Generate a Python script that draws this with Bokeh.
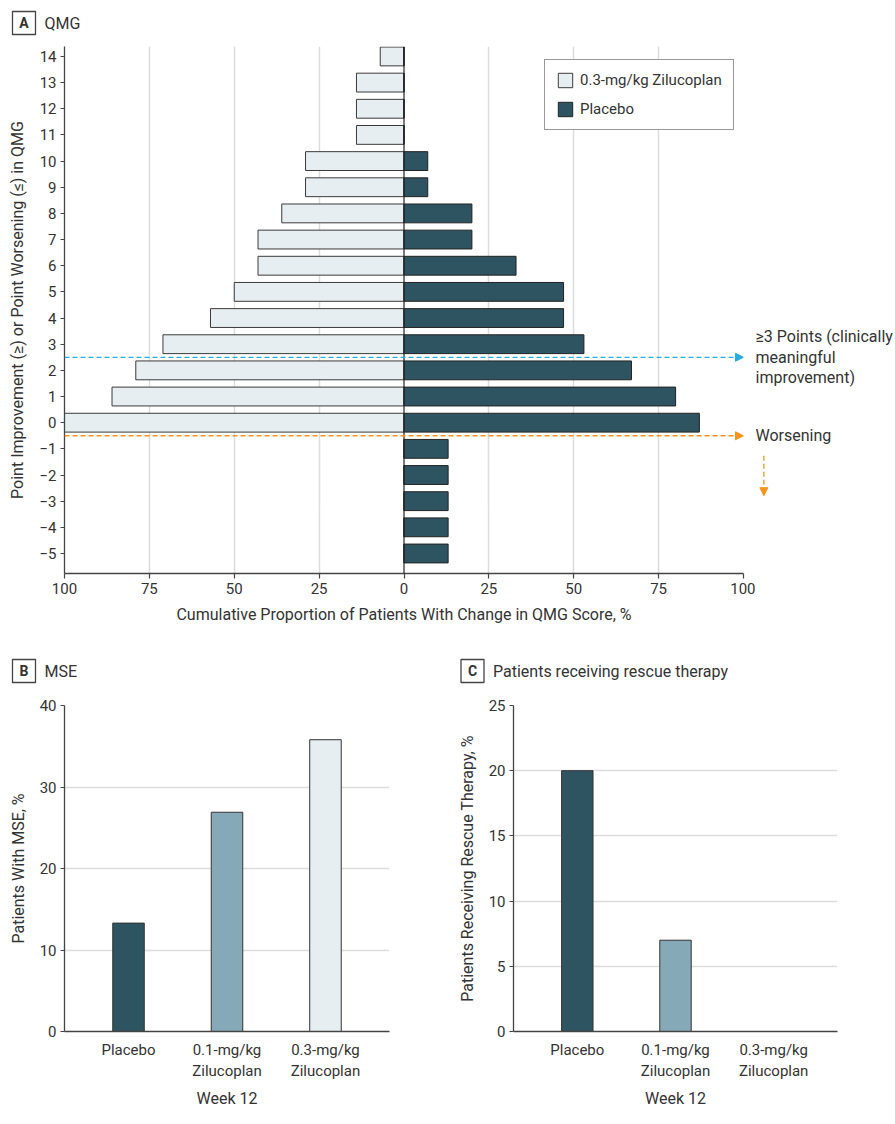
from bokeh.plotting import figure
from bokeh.models import (Range1d, FixedTicker, Arrow, NormalHead, Span,
                          Legend, LegendItem, ColumnDataSource)
from bokeh.layouts import column, row
from bokeh.embed import file_html
from bokeh.resources import INLINE
from bokeh.core.properties import value

FONT = "Roboto"
TXT = "#333333"
AXC = "#444444"
GRID = "#dcdcdc"
C_PLACEBO = "#2e5461"
C_ZIL01 = "#86a9b8"
C_ZIL03 = "#e6eef1"
C_BLUE = "#29aae1"
C_ORANGE = "#f7941d"

# ---------------- Panel A data ----------------
qmg_points = [-5, -4, -3, -2, -1, 0, 1, 2, 3, 4, 5, 6, 7, 8, 9, 10, 11, 12, 13, 14]
zil03_pct = [0, 0, 0, 0, 0, 100, 86, 79, 71, 57, 50, 43, 43, 36, 29, 29, 14, 14, 14, 7]
placebo_pct = [13, 13, 13, 13, 13, 87, 80, 67, 53, 47, 47, 33, 20, 20, 7, 7, 0, 0, 0, 0]
a_ticks = [-100, -75, -50, -25, 0, 25, 50, 75, 100]
a_tick_labels = ["100", "75", "50", "25", "0", "25", "50", "75", "100"]

# ---------------- Panel B / C data ----------------
groups = ["Placebo", "0.1-mg/kg\nZilucoplan", "0.3-mg/kg\nZilucoplan"]
group_colors = [C_PLACEBO, C_ZIL01, C_ZIL03]
mse_pct = [13.3, 26.9, 35.8]
rescue_pct = [20.0, 7.0, 0.0]
b_ticks = [0, 10, 20, 30, 40]
c_ticks = [0, 5, 10, 15, 20, 25]


def style_axes(p):
    for ax in p.axis:
        ax.axis_line_color = AXC
        ax.axis_line_width = 1.3
        ax.major_tick_line_color = AXC
        ax.major_tick_line_width = 1.2
        ax.minor_tick_line_color = None
        ax.major_label_text_font = FONT
        ax.major_label_text_font_size = "15px"
        ax.major_label_text_color = TXT
        ax.axis_label_text_font = FONT
        ax.axis_label_text_font_size = "16px"
        ax.axis_label_text_font_style = "normal"
        ax.axis_label_text_color = TXT
    p.outline_line_color = None
    p.background_fill_color = "white"
    p.border_fill_color = "white"


def blank_fig(width, height, xr, yr, **kw):
    p = figure(width=width, height=height, x_range=xr, y_range=yr,
               output_backend="svg", toolbar_location=None,
               x_axis_location=None, y_axis_location=None, **kw)
    p.grid.grid_line_color = None
    p.outline_line_color = None
    p.background_fill_color = "white"
    p.border_fill_color = "white"
    return p


def header_fig(width, height, letter, title, box_x, cy):
    # pixel-based decoration panel (y measured from top)
    p = blank_fig(width, height, Range1d(0, width), Range1d(height, 0),
                  min_border=0)
    p.rect(x=[box_x], y=[cy], width=23, height=23, fill_color="white",
           line_color=AXC, line_width=1.3)
    p.text(x=[box_x], y=[cy], text=[letter], text_font=value(FONT), text_font_size="14px",
           text_font_style="bold", text_color=TXT, text_align="center", text_baseline="middle")
    p.text(x=[box_x + 20.5], y=[cy], text=[title], text_font=value(FONT), text_font_size="16px",
           text_color=TXT, text_align="left", text_baseline="middle")
    return p


# ================= Panel A =================
hdrA = header_fig(895, 38, "A", "QMG", 23.5, 22.5)

pA = figure(width=755, height=597, x_range=Range1d(-100, 100), y_range=Range1d(-5.765, 14.38),
            output_backend="svg", toolbar_location=None,
            min_border_left=64, min_border_right=12, min_border_top=8, min_border_bottom=62)
style_axes(pA)

srcA = ColumnDataSource(dict(y=qmg_points, zl=[-v for v in zil03_pct], zr=[0] * len(qmg_points),
                             pl=[0] * len(qmg_points), pr=placebo_pct))
rz = pA.hbar(y="y", left="zl", right="zr", height=0.72, source=srcA,
             fill_color=C_ZIL03, line_color="#3a3a3a", line_width=1)
rp = pA.hbar(y="y", left="pl", right="pr", height=0.72, source=srcA,
             fill_color=C_PLACEBO, line_color="#222222", line_width=1)

pA.xaxis.ticker = FixedTicker(ticks=a_ticks)
pA.xaxis.major_label_overrides = {t: l for t, l in zip(a_ticks, a_tick_labels)}
pA.xaxis.major_tick_in = 0
pA.xaxis.major_tick_out = 5
pA.xaxis.major_label_standoff = 4
pA.xaxis.axis_label = "Cumulative Proportion of Patients With Change in QMG Score, %"
pA.xaxis.axis_label_standoff = 8
pA.xgrid.ticker = FixedTicker(ticks=[-75, -50, -25, 25, 50, 75, 100])
pA.xgrid.grid_line_color = GRID
pA.xgrid.grid_line_width = 1.5
pA.ygrid.grid_line_color = None

pA.yaxis.ticker = FixedTicker(ticks=qmg_points)
pA.yaxis.axis_label = "Point Improvement (\u2265) or Point Worsening (\u2264) in QMG"
pA.yaxis.major_tick_in = 0
pA.yaxis.major_tick_out = 4
pA.yaxis.major_label_standoff = 4
pA.yaxis.axis_label_standoff = 9

pA.add_layout(Span(location=0, dimension="height", line_color="#222222", line_width=1.2))

pA.add_layout(Arrow(end=NormalHead(size=8, fill_color=C_BLUE, line_color=C_BLUE),
                    x_start=-100, y_start=2.5, x_end=100, y_end=2.5,
                    line_color=C_BLUE, line_width=1.3, line_dash="5 3"))
pA.add_layout(Arrow(end=NormalHead(size=8, fill_color=C_ORANGE, line_color=C_ORANGE),
                    x_start=-100, y_start=-0.5, x_end=100, y_end=-0.5,
                    line_color=C_ORANGE, line_width=1.3, line_dash="5 3"))

legA = Legend(items=[LegendItem(label="0.3-mg/kg Zilucoplan", renderers=[rz]),
                     LegendItem(label="Placebo", renderers=[rp])],
              location=(480, 443))
legA.border_line_color = "#333333"
legA.border_line_width = 1.2
legA.label_text_font = FONT
legA.label_text_font_size = "15px"
legA.label_text_color = TXT
legA.glyph_width = 18
legA.glyph_height = 18
legA.label_height = 18
legA.spacing = 11
legA.padding = 11
legA.margin = 0
legA.label_standoff = 6
pA.add_layout(legA)

# side annotation panel sharing the y scale of panel A
x0_side = 100 + 12 / 3.395
sideA = blank_fig(140, 597, Range1d(x0_side, x0_side + 140 / 3.395), pA.y_range,
                  min_border_left=0, min_border_right=0, min_border_top=8, min_border_bottom=62)
sideA.text(x=[x0_side], y=[2.5], text=["\u22653 Points (clinically\nmeaningful\nimprovement)"],
           text_font=value(FONT), text_font_size="16px", text_color=TXT,
           text_align="left", text_baseline="middle", text_line_height=1.07)
sideA.text(x=[x0_side], y=[-0.5], text=["Worsening"],
           text_font=value(FONT), text_font_size="16px", text_color=TXT,
           text_align="left", text_baseline="middle")
sideA.add_layout(Arrow(end=NormalHead(size=8, fill_color=C_ORANGE, line_color=C_ORANGE),
                       x_start=106, y_start=-1.26, x_end=106, y_end=-2.79,
                       line_color=C_ORANGE, line_width=1.3, line_dash="5 3"))


# ================= Panels B and C =================
def bar_panel(width, left_border, right_border, y_max, ticks, values, ylabel):
    p = figure(width=width, height=431, x_range=Range1d(-0.65, 2.65), y_range=Range1d(0, y_max),
               output_backend="svg", toolbar_location=None,
               min_border_left=left_border, min_border_right=right_border, min_border_top=15,
               min_border_bottom=90)
    style_axes(p)
    xs = list(range(len(groups)))
    src = ColumnDataSource(dict(x=xs, top=values, color=group_colors))
    p.vbar(x="x", top="top", width=0.32, bottom=0, source=src,
           fill_color="color", line_color="#333333", line_width=1)
    p.xaxis.ticker = FixedTicker(ticks=xs)
    p.xaxis.major_label_overrides = {x: g for x, g in zip(xs, groups)}
    p.xaxis.major_tick_out = 0
    p.xaxis.major_tick_in = 0
    p.xaxis.major_label_standoff = 9
    p.xaxis.axis_label = "Week 12"
    p.xaxis.axis_label_standoff = 6
    p.xgrid.grid_line_color = None
    p.yaxis.ticker = FixedTicker(ticks=ticks)
    p.yaxis.major_tick_in = 0
    p.yaxis.major_tick_out = 4
    p.yaxis.major_label_standoff = 4
    p.yaxis.axis_label = ylabel
    p.yaxis.axis_label_standoff = 9
    p.ygrid.ticker = FixedTicker(ticks=ticks)
    p.ygrid.grid_line_color = GRID
    p.ygrid.grid_line_width = 1.5
    return p


hdrB = header_fig(445, 55, "B", "MSE", 23.5, 35.5)
hdrC = header_fig(450, 55, "C", "Patients receiving rescue therapy", 27, 35.5)
pB = bar_panel(445, 64, 56, 40, b_ticks, mse_pct, "Patients With MSE, %")
pC = bar_panel(450, 68, 58, 25, c_ticks, rescue_pct, "Patients Receiving Rescue Therapy, %")

rule = blank_fig(895, 2, Range1d(0, 1), Range1d(0, 1), min_border=0)
rule.background_fill_color = "#444444"
rule.border_fill_color = "#444444"

layout = column(hdrA, row(pA, sideA), row(hdrB, hdrC), row(pB, pC), rule)
open("out.html", "w").write(file_html(layout, INLINE))
